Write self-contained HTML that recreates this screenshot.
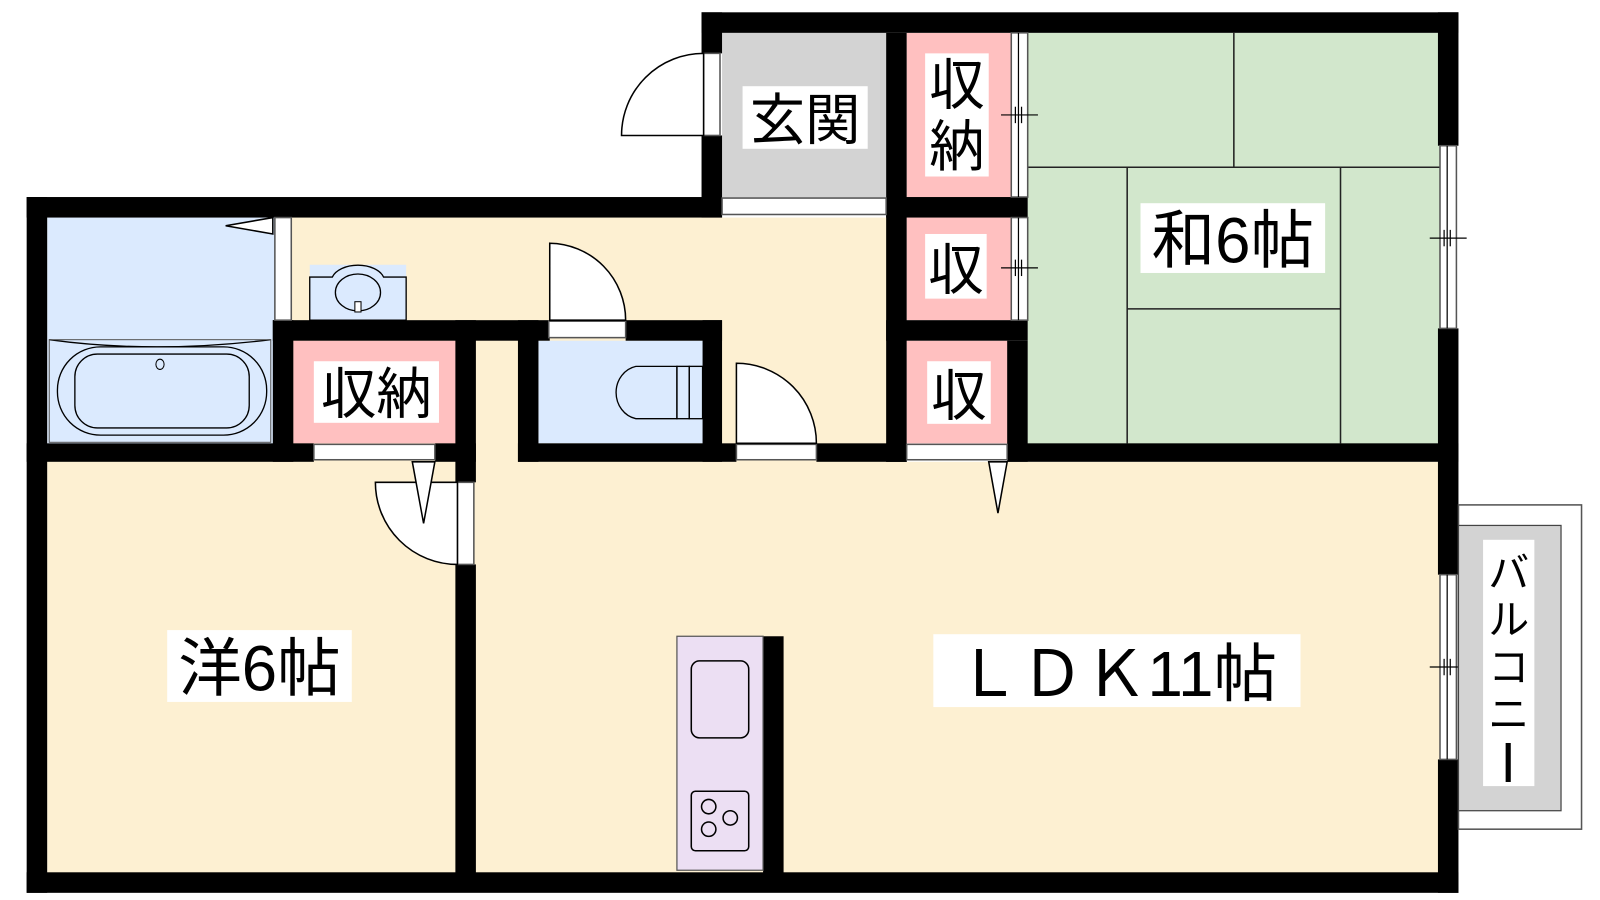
<!DOCTYPE html>
<html><head><meta charset="utf-8"><style>
html,body{margin:0;padding:0;background:#fff;}
svg{display:block;}
text{font-family:"Liberation Sans","Noto Sans CJK JP",sans-serif;fill:#000;}
</style></head><body>
<svg width="1600" height="900" viewBox="0 0 1560 877" preserveAspectRatio="none" xmlns="http://www.w3.org/2000/svg">
<rect width="1560" height="877" fill="#fff"/>
<!-- floors -->
<rect x="46" y="212" width="820" height="240" fill="#fdf0d2"/>
<rect x="46" y="450" width="1360" height="402" fill="#fdf0d2"/>
<rect x="704" y="32" width="160" height="162" fill="#d3d3d3"/>
<rect x="884" y="32" width="102" height="160" fill="#ffc0c0"/>
<rect x="884" y="212" width="102" height="100" fill="#ffc0c0"/>
<rect x="884" y="332" width="100" height="100" fill="#ffc0c0"/>
<rect x="1002" y="32" width="402" height="402" fill="#d2e7cc"/>
<rect x="46" y="212" width="222" height="222" fill="#dbeafe"/>
<rect x="286" y="332" width="160" height="100" fill="#ffc0c0"/>
<rect x="525" y="332" width="162" height="100" fill="#dbeafe"/>
<!-- tatami lines -->
<g stroke="#222" stroke-width="1.5">
<line x1="1002" y1="163" x2="1404" y2="163"/>
<line x1="1203" y1="32" x2="1203" y2="163"/>
<line x1="1099" y1="163" x2="1099" y2="432"/>
<line x1="1307" y1="163" x2="1307" y2="432"/>
<line x1="1099" y1="301" x2="1307" y2="301"/>
</g>
<!-- walls -->
<g fill="#000">
<rect x="684" y="12" width="738" height="20"/>
<rect x="684" y="12" width="20" height="40"/>
<rect x="684" y="132" width="20" height="80"/>
<rect x="26" y="192" width="678" height="20"/>
<rect x="26" y="192" width="20" height="678"/>
<rect x="26" y="850" width="1396" height="20"/>
<rect x="1402" y="12" width="20" height="130"/>
<rect x="1402" y="320" width="20" height="240"/>
<rect x="1402" y="740" width="20" height="130"/>
<rect x="864" y="32" width="20" height="418"/>
<rect x="864" y="192" width="138" height="20"/>
<rect x="864" y="312" width="138" height="20"/>
<rect x="982" y="332" width="20" height="118"/>
<rect x="864" y="432" width="20" height="18"/>
<rect x="982" y="432" width="440" height="18"/>
<rect x="266" y="312" width="270" height="20"/>
<rect x="610" y="312" width="94" height="20"/>
<rect x="266" y="312" width="20" height="138"/>
<rect x="26" y="432" width="280" height="18"/>
<rect x="424" y="432" width="40" height="18"/>
<rect x="444" y="312" width="20" height="158"/>
<rect x="444" y="550" width="20" height="310"/>
<rect x="505" y="312" width="20" height="138"/>
<rect x="685" y="312" width="19" height="138"/>
<rect x="505" y="432" width="213" height="18"/>
<rect x="796" y="432" width="88" height="18"/>
<rect x="744" y="620" width="20" height="240"/>
</g>
<!-- openings / sills -->
<g fill="#fff" stroke="#555" stroke-width="1.5">
<rect x="704" y="193" width="160" height="16"/>
<rect x="986" y="32" width="16" height="160"/>
<rect x="986" y="212" width="16" height="100"/>
<rect x="884" y="433" width="98" height="15"/>
<rect x="718" y="433" width="78" height="15"/>
<rect x="535" y="313" width="75" height="16"/>
<rect x="306" y="433" width="118" height="15"/>
<rect x="446" y="470" width="16" height="80"/>
<rect x="268" y="212" width="16" height="100"/>
<rect x="686" y="52" width="16" height="80"/>
<rect x="1404" y="142" width="16" height="178"/>
<rect x="1404" y="560" width="16" height="180"/>
</g>
<g stroke="#000" stroke-width="1.2" fill="none">
<line x1="993" y1="32" x2="993" y2="192"/><line x1="993" y1="212" x2="993" y2="312"/>
<line x1="976" y1="112" x2="1012" y2="112"/><line x1="990" y1="104" x2="990" y2="120"/><line x1="996" y1="104" x2="996" y2="120"/>
<line x1="976" y1="261" x2="1012" y2="261"/><line x1="990" y1="253" x2="990" y2="269"/><line x1="996" y1="253" x2="996" y2="269"/>
<line x1="1411" y1="142" x2="1411" y2="320"/><line x1="1411" y1="560" x2="1411" y2="740"/>
<line x1="1394" y1="232" x2="1430" y2="232"/><line x1="1394" y1="650" x2="1430" y2="650"/>
<line x1="1408" y1="224" x2="1408" y2="240"/><line x1="1414" y1="224" x2="1414" y2="240"/>
<line x1="1408" y1="642" x2="1408" y2="658"/><line x1="1414" y1="642" x2="1414" y2="658"/>
</g>
<!-- doors -->
<g fill="#fff" stroke="#000" stroke-width="1.5">
<path d="M686 52 A80 80 0 0 0 606 132 L686 132 Z"/>
<path d="M536 312 L536 237 A75 75 0 0 1 610 312 Z"/>
<path d="M718 432 L718 354 A78 78 0 0 1 796 432 Z"/>
<path d="M446 550 A80 80 0 0 1 366 470 L446 470 Z"/>
<path d="M402 450 L413 510 L424 450 Z"/>
<path d="M964 450 L973 500 L982 450 Z"/>
<path d="M266 212 L220 220 L266 228 Z"/>
</g>
<!-- washbasin -->
<rect x="302" y="258" width="94" height="54" fill="#dbeafe"/>
<path d="M302 270 L324 270 A26 16 0 0 1 374 270 L396 270 L396 312 L302 312 Z" fill="#dbeafe" stroke="#000" stroke-width="1.3"/>
<ellipse cx="349" cy="285" rx="22" ry="18" fill="#dbeafe" stroke="#000" stroke-width="1.3"/>
<rect x="346" y="294" width="6" height="10" fill="#fff" stroke="#000"/>
<!-- tub -->
<path d="M48 331 Q150 345 264 331" fill="none" stroke="#000" stroke-width="1.3"/>
<rect x="48" y="331" width="216" height="100" fill="none" stroke="#555" stroke-width="1"/>
<rect x="56" y="338" width="204" height="86" rx="42" fill="none" stroke="#000" stroke-width="1.3"/>
<rect x="73" y="345" width="170" height="72" rx="22" fill="none" stroke="#000" stroke-width="1.3"/>
<ellipse cx="156" cy="355" rx="4" ry="5" fill="none" stroke="#000"/>
<!-- toilet -->
<path d="M660 357 L620 357 A24 26 0 0 0 620 408 L660 408 Z" fill="none" stroke="#000" stroke-width="1.3"/>
<rect x="660" y="357" width="12" height="51" fill="none" stroke="#000" stroke-width="1.3"/>
<rect x="672" y="357" width="13" height="51" fill="none" stroke="#000" stroke-width="1.3"/>
<!-- kitchen -->
<rect x="660" y="620" width="84" height="228" fill="#ecdff3" stroke="#555" stroke-width="1.2"/>
<rect x="674" y="644" width="56" height="75" rx="8" fill="none" stroke="#000" stroke-width="1.5"/>
<rect x="674" y="771" width="56" height="58" rx="4" fill="none" stroke="#000" stroke-width="1.5"/>
<g fill="none" stroke="#000" stroke-width="1.5">
<circle cx="691" cy="786" r="7"/><circle cx="712" cy="797" r="7"/><circle cx="691" cy="808" r="7"/>
</g>
<!-- balcony -->
<rect x="1422" y="492" width="120" height="316" fill="#fff" stroke="#555" stroke-width="1.5"/>
<rect x="1422" y="512" width="100" height="278" fill="#d3d3d3" stroke="#444" stroke-width="1.2"/>
<rect x="1446" y="526" width="50" height="240" fill="#fff"/>
<text x="1471" y="572" font-size="40" text-anchor="middle">バ</text>
<text x="1471" y="618" font-size="40" text-anchor="middle">ル</text>
<text x="1471" y="664" font-size="40" text-anchor="middle">コ</text>
<text x="1471" y="710" font-size="40" text-anchor="middle">ニ</text>
<rect x="1468" y="724" width="5" height="38" fill="#000"/>
<!-- labels -->
<rect x="724" y="84" width="122" height="61" fill="#fff"/>
<text x="785" y="136" font-size="54" text-anchor="middle">玄関</text>
<rect x="902" y="52" width="62" height="120" fill="#fff"/>
<text x="933" y="102" font-size="54" text-anchor="middle">収</text>
<text x="933" y="162" font-size="54" text-anchor="middle">納</text>
<rect x="902" y="228" width="60" height="63" fill="#fff"/>
<text x="932" y="282" font-size="54" text-anchor="middle">収</text>
<rect x="904" y="352" width="62" height="61" fill="#fff"/>
<text x="935" y="405" font-size="54" text-anchor="middle">収</text>
<rect x="306" y="352" width="122" height="60" fill="#fff"/>
<text x="367" y="403" font-size="54" text-anchor="middle">収納</text>
<rect x="1112" y="198" width="180" height="68" fill="#fff"/>
<text x="1202" y="256" font-size="62" text-anchor="middle">和6帖</text>
<rect x="163" y="614" width="180" height="70" fill="#fff"/>
<text x="253" y="673" font-size="62" text-anchor="middle">洋6帖</text>
<rect x="910" y="618" width="358" height="71" fill="#fff"/>
<text x="1089" y="678" font-size="62" text-anchor="middle">ＬＤＫ11帖</text>
</svg>
</body></html>
